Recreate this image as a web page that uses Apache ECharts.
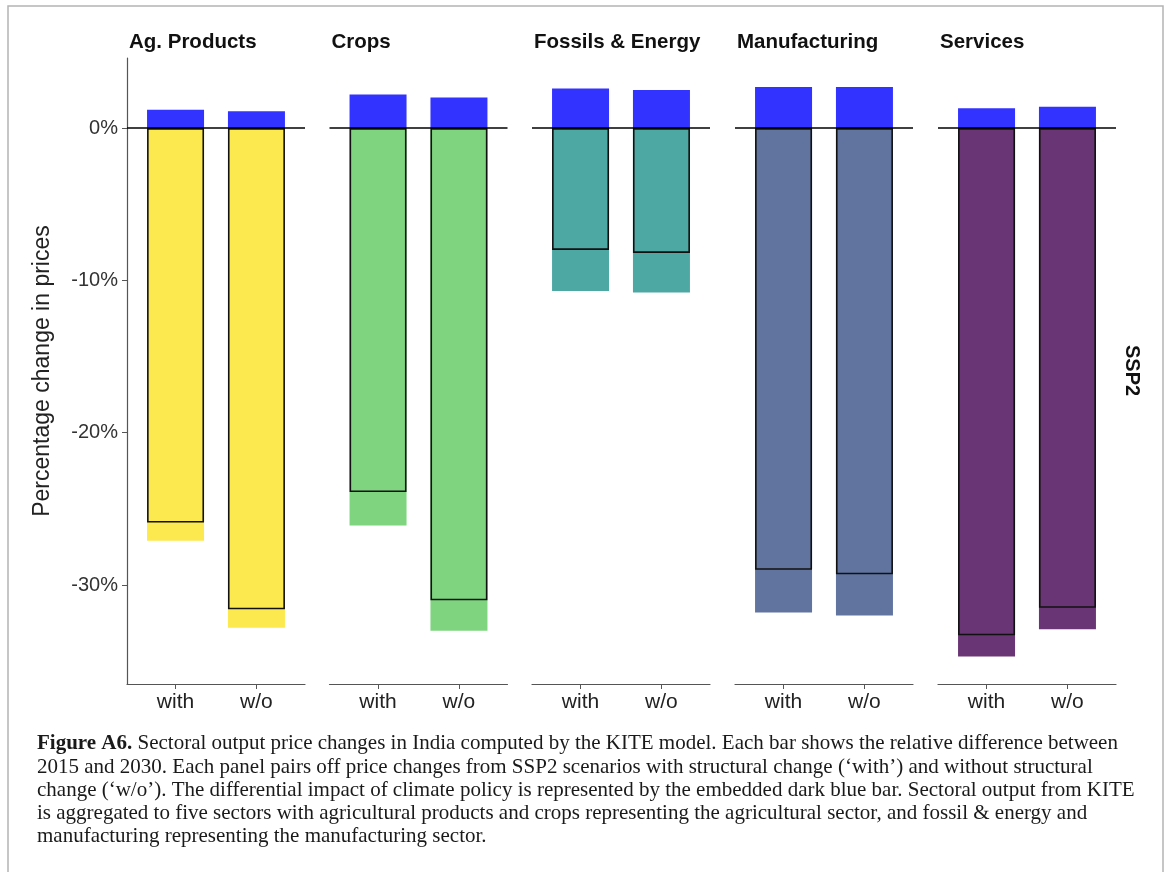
<!DOCTYPE html>
<html>
<head>
<meta charset="utf-8">
<title>Sectoral output price changes in India</title>
<script src="https://cdn.jsdelivr.net/npm/echarts@6/dist/echarts.min.js"></script>
<style>
    html, body { margin: 0; padding: 0; background: #fff; }
    #main { width: 1170px; height: 872px; }
</style>
</head>
<body>
<div id="main"></div>
<script>
// data (percent change in prices, 2015 -> 2030, SSP2)
const sectors = ['Ag. Products', 'Crops', 'Fossils & Energy', 'Manufacturing', 'Services'];
const scenarios = ['with', 'w/o'];
const totalChange = [ // full coloured bar
    [-27.1, -32.8],
    [-26.1, -33.0],
    [-10.7, -10.8],
    [-31.8, -32.0],
    [-34.7, -32.9]
];
const outlinedChange = [ // black outlined bar
    [-25.9, -31.6],
    [-23.9, -31.0],
    [-8.0, -8.2],
    [-29.0, -29.3],
    [-33.3, -31.5]
];
const policyImpact = [ // dark blue bar above zero
    [1.2, 1.1],
    [2.2, 2.0],
    [2.6, 2.5],
    [2.7, 2.7],
    [1.3, 1.4]
];
const yTicks = [0, -10, -20, -30];

const captionLines = [
    '2015 and 2030. Each panel pairs off price changes from SSP2 scenarios with structural change (\u2018with\u2019) and without structural',
    'change (\u2018w/o\u2019). The differential impact of climate policy is represented by the embedded dark blue bar. Sectoral output from KITE',
    'is aggregated to five sectors with agricultural products and crops representing the agricultural sector, and fossil & energy and',
    'manufacturing representing the manufacturing sector.'
];

// styles
const sectorColors = ['#FCE94F', '#7FD47F', '#4DA8A4', '#6174A0', '#6A3575'];
const policyColor = '#3333FF';
const panelLeft = [127, 329.5, 532, 735, 938];
const panelWidth = 178;
const sans = 'Liberation Sans, Arial, sans-serif';
const serif = 'Liberation Serif, Times New Roman, serif';
const captionSize = 21;

let myChart = echarts.init(document.getElementById('main'), null, {renderer: 'canvas'});

let grids = [], xAxes = [], yAxes = [], series = [], titles = [];

for (let i = 0; i < sectors.length; i++) {
    grids.push({left: panelLeft[i], width: panelWidth, top: 58, height: 626});

    titles.push({
        text: sectors[i],
        left: panelLeft[i] - 3,
        top: 27,
        textStyle: {fontFamily: sans, fontSize: 20.5, fontWeight: 'bold', color: '#111'}
    });

    xAxes.push({
        type: 'value',
        gridIndex: i,
        min: 0.4,
        max: 2.6,
        splitLine: {show: false},
        axisLine: {show: true, onZero: false, lineStyle: {color: '#555', width: 1.2}},
        axisTick: {show: true, customValues: [1, 2], length: 5, lineStyle: {color: '#555'}},
        axisLabel: {
            customValues: [1, 2],
            formatter: function (v) { return scenarios[Math.round(v) - 1]; },
            fontFamily: sans,
            fontSize: 21,
            color: '#222',
            margin: 8
        }
    });

    let y = {
        type: 'value',
        gridIndex: i,
        min: -36.5,
        max: 4.6,
        splitLine: {show: false},
        axisLine: {show: i === 0, lineStyle: {color: '#555', width: 1.2}},
        axisTick: {show: i === 0, customValues: yTicks, length: 5, lineStyle: {color: '#555'}},
        axisLabel: {
            show: i === 0,
            customValues: yTicks,
            formatter: '{value}%',
            fontFamily: sans,
            fontSize: 20,
            color: '#333',
            margin: 9
        }
    };
    if (i === 0) {
        y.name = 'Percentage change in prices';
        y.nameLocation = 'middle';
        y.nameGap = 73;
        y.nameTextStyle = {fontFamily: sans, fontSize: 23, color: '#222'};
    }
    yAxes.push(y);

    series.push({
        name: sectors[i] + ' total',
        type: 'bar',
        xAxisIndex: i,
        yAxisIndex: i,
        barWidth: 57,
        barGap: '-100%',
        itemStyle: {color: sectorColors[i]},
        data: totalChange[i].map(function (v, j) { return [j + 1, v]; })
    });
    series.push({
        name: sectors[i] + ' outlined',
        type: 'bar',
        xAxisIndex: i,
        yAxisIndex: i,
        barWidth: 57,
        barGap: '-100%',
        itemStyle: {color: 'rgba(0,0,0,0)', borderColor: '#111', borderWidth: 1.6},
        data: outlinedChange[i].map(function (v, j) { return [j + 1, v]; })
    });
    series.push({
        name: sectors[i] + ' policy',
        type: 'bar',
        xAxisIndex: i,
        yAxisIndex: i,
        barWidth: 57,
        barGap: '-100%',
        itemStyle: {color: policyColor},
        data: policyImpact[i].map(function (v, j) { return [j + 1, v]; }),
        markLine: { // zero line across the panel
            silent: true,
            symbol: ['none', 'none'],
            label: {show: false},
            lineStyle: {color: '#000', width: 1.6, type: 'solid'},
            data: [{yAxis: 0}]
        }
    });
}

// frame, facet label and caption
let graphics = [
    {
        type: 'rect',
        shape: {x: 8, y: 6, width: 1155, height: 900},
        style: {fill: 'none', stroke: '#b4b4b4', lineWidth: 1.5},
        silent: true
    },
    {
        type: 'text',
        left: 1122,
        top: 345,
        rotation: -Math.PI / 2,
        style: {text: 'SSP2', fontFamily: sans, fontSize: 20, fontWeight: 'bold', fill: '#111'}
    },
    {
        type: 'text',
        x: 37,
        y: 733,
        style: {
            text: '{b|Figure A6.} Sectoral output price changes in India computed by the KITE model. Each bar shows the relative difference between',
            fontFamily: serif,
            fontSize: captionSize,
            fill: '#1a1a1a',
            rich: {b: {fontFamily: serif, fontSize: captionSize, fontWeight: 'bold', fill: '#1a1a1a'}}
        }
    }
];
for (let k = 0; k < captionLines.length; k++) {
    graphics.push({
        type: 'text',
        x: 37,
        y: 756.5 + k * 23.2,
        style: {text: captionLines[k], fontFamily: serif, fontSize: captionSize, fill: '#1a1a1a'}
    });
}

let option = {
    backgroundColor: '#fff',
    animation: false,
    title: titles,
    grid: grids,
    xAxis: xAxes,
    yAxis: yAxes,
    series: series,
    graphic: graphics
};

myChart.setOption(option);
</script>
</body>
</html>
